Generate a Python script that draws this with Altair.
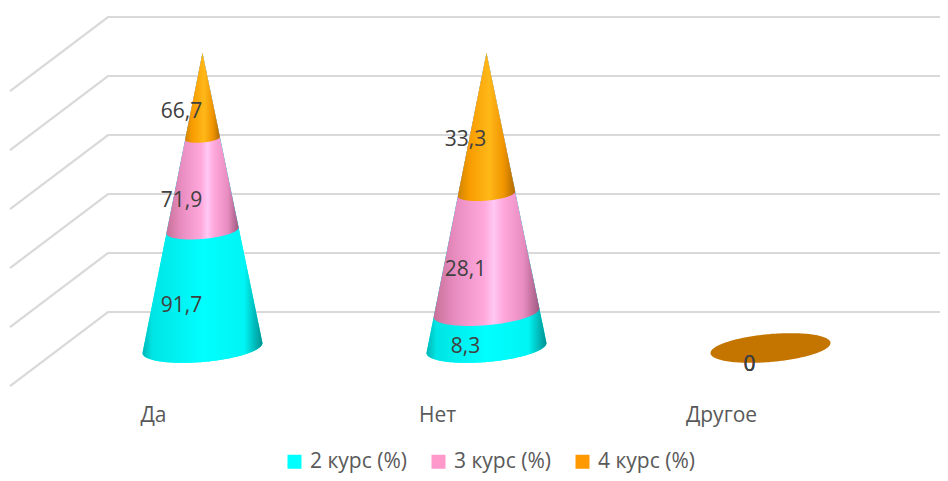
import altair as alt
import numpy as np
import pandas as pd

categories = ["Да", "Нет", "Другое"]
series_names = ["2 курс (%)", "3 курс (%)", "4 курс (%)"]
course2 = [91.7, 8.3, 0]
course3 = [71.9, 28.1, 0]
course4 = [66.7, 33.3, 0]
series_values = [course2, course3, course4]
legend_colors = ["#00FFFF", "#FF99CC", "#FF9900"]
grid_levels = [0, 20, 40, 60, 80, 100]

# pixels per data unit of the two scales
PX_X, PX_Y = 284.0, 2.95
BASE_R = 60 / PX_X
BASE_E = 14 / PX_Y
SHEAR = (10 / PX_Y) / (120 / PX_X)
N = 121

shapes, labels, flats = [], [], []
for c, cat in enumerate(categories):
    vals = [s[c] for s in series_values]
    total = sum(vals)
    t = np.cos(np.linspace(np.pi, 0, N))
    if total == 0:
        dx = BASE_R * t
        arc = BASE_E * np.sqrt(1 - t ** 2)
        flats += [dict(key=cat, x=c + a, y=SHEAR * a - b, y2=SHEAR * a + b) for a, b in zip(dx, arc)]
        for name in series_names:
            labels.append(dict(x=c, y=0.0, text="0"))
        continue
    base = 0.0
    for name, v in zip(series_names, vals):
        share = v / total * 100
        f = 1 - base / 100
        r = BASE_R * f
        dx = r * t
        low = base + SHEAR * dx - BASE_E * f * np.sqrt(1 - t ** 2)
        left_end = base - SHEAR * r
        right_end = base + SHEAR * r
        up = np.where(dx < 0,
                      100 - (100 - left_end) * np.abs(t),
                      100 - (100 - right_end) * np.abs(t))
        shapes += [dict(series=name, key=f"{cat}-{name}", x=c + a, y=b, y2=d)
                   for a, b, d in zip(dx, low, up)]
        labels.append(dict(x=c, y=base + share / 2, text=f"{v}".replace(".", ",")))
        base += share

shapes = pd.DataFrame(shapes)
labels = pd.DataFrame(labels)
flats = pd.DataFrame(flats)

grid = []
for g in grid_levels:
    grid += [dict(level=g, step=0, x=(10 - 202.5) / PX_X, y=g - 12.9),
             dict(level=g, step=1, x=(108 - 202.5) / PX_X, y=g + 12.2),
             dict(level=g, step=2, x=(940 - 202.5) / PX_X, y=g + 12.2)]
grid = pd.DataFrame(grid)

xs = alt.Scale(domain=[(8 - 202.5) / PX_X, (940 - 202.5) / PX_X], nice=False, zero=False)
ys = alt.Scale(domain=[(348 - 473) / PX_Y, (348 - 8) / PX_Y], nice=False, zero=False)
X = alt.X("x:Q", scale=xs, axis=None)
Y = alt.Y("y:Q", scale=ys, axis=None)

FONT = "Open Sans"
FS = 21

grid_layer = alt.Chart(grid).mark_line(color="#D9D9D9", strokeWidth=2.2).encode(
    x=X, y=Y, detail="level:N", order="step:Q")

base_layer = alt.Chart(shapes).mark_area(interpolate="linear").encode(
    x=X, y=Y, y2="y2:Q", detail="key:N",
    color=alt.Color("series:N",
                    scale=alt.Scale(domain=series_names, range=legend_colors),
                    legend=alt.Legend(orient="none", legendX=276, legendY=443,
                                      direction="horizontal", title=None,
                                      symbolType="square", symbolSize=196,
                                      symbolStrokeWidth=0, symbolOpacity=1,
                                      labelFont=FONT, labelFontSize=FS,
                                      labelColor="#595959", labelOffset=5,
                                      columnPadding=21, columns=3)))


def grad(stops):
    return alt.Gradient(gradient="linear", x1=0, x2=1, y1=0, y2=0,
                        stops=[alt.GradientStop(offset=o, color=c) for o, c in stops])


gradients = {
    series_names[0]: [(0, "#00B4B4"), (0.08, "#00E4E4"), (0.5, "#00FFFF"), (0.85, "#00F4F4"), (1, "#009090")],
    series_names[1]: [(0, "#C87098"), (0.2, "#E88CC0"), (0.48, "#FFA8DC"), (0.57, "#FFC8F4"), (0.66, "#FFA8DC"),
                      (0.85, "#E88CC0"), (1, "#A05880")],
    series_names[2]: [(0, "#D08400"), (0.2, "#F89C00"), (0.55, "#FFB818"), (0.8, "#F09400"), (1, "#B06C00")],
}
shade_layers = [
    alt.Chart(shapes[shapes["series"] == name]).mark_area(color=grad(gradients[name])).encode(
        x=X, y=Y, y2="y2:Q", detail="key:N")
    for name in series_names
]

flat_layer = alt.Chart(flats).mark_area(color="#C47500").encode(
    x=X, y=Y, y2="y2:Q", detail="key:N")

label_layer = alt.Chart(labels).mark_text(
    font=FONT, fontSize=FS, color="#404040", dx=-21, dy=16.5, align="center", baseline="middle"
).encode(x=X, y=Y, text="text:N")

cat_df = pd.DataFrame({"x": range(len(categories)), "y": [(348 - 416) / PX_Y] * len(categories),
                       "text": categories})
cat_layer = alt.Chart(cat_df).mark_text(
    font=FONT, fontSize=FS, color="#595959", dx=-49, align="center", baseline="middle"
).encode(x=X, y=Y, text="text:N")

chart = alt.layer(grid_layer, base_layer, *shade_layers, flat_layer, label_layer, cat_layer).properties(
    width=932, height=465, padding=0,
    autosize=alt.AutoSizeParams(type="none"),
    background="#FFFFFF",
).configure_view(stroke=None)

chart.save("out.html", embed_options={"renderer": "svg", "actions": False})
